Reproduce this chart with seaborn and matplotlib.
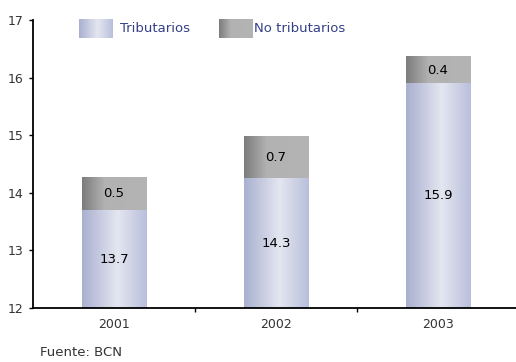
import numpy as np
import pandas as pd
import matplotlib
matplotlib.use("Agg")
import matplotlib.pyplot as plt
from matplotlib.colors import LinearSegmentedColormap
import seaborn as sns

# data
years = ["2001", "2002", "2003"]
tributarios = [13.7, 14.25, 15.9]
no_tributarios = [0.57, 0.73, 0.46]
trib_labels = ["13.7", "14.3", "15.9"]
no_trib_labels = ["0.5", "0.7", "0.4"]
y_ticks = [12, 13, 14, 15, 16, 17]

df = pd.DataFrame({"year": years, "trib": tributarios, "no_trib": no_tributarios})
df["total"] = df["trib"] + df["no_trib"]

sns.set_theme(style="white")
plt.rcParams["font.family"] = ["DejaVu Sans"]

cmap_trib = LinearSegmentedColormap.from_list(
    "trib", [(0.0, "#a9b0d0"), (0.55, "#e4e6f0"), (1.0, "#b9bfdc")])
cmap_gray = LinearSegmentedColormap.from_list(
    "gray", [(0.0, "#7c7c7c"), (0.35, "#b2b2b2"), (1.0, "#b4b4b4")])
grad = np.linspace(0, 1, 256).reshape(1, -1)

fig = plt.figure(figsize=(5.16, 3.62), dpi=100)
ax = fig.add_axes([33 / 516, 1 - 308 / 362, 486 / 516, 288 / 362])

sns.barplot(data=df, x="year", y="total", color="#b4b4b4", width=0.40, ax=ax)
n_gray = len(ax.patches)
sns.barplot(data=df, x="year", y="trib", color="#c8cce2", width=0.40, ax=ax)

# replace flat fills with horizontal gradients
for i, p in enumerate(ax.patches):
    x0, w, h = p.get_x(), p.get_width(), p.get_height()
    cmap = cmap_gray if i < n_gray else cmap_trib
    ax.imshow(grad, cmap=cmap, aspect="auto", extent=[x0, x0 + w, 0, h],
              zorder=1 + (i >= n_gray), interpolation="bicubic")
    p.set_visible(False)

ax.set_xlim(-0.5, 2.5)
ax.set_ylim(12, 17)
ax.set_yticks(y_ticks)
ax.set_xlabel("")
ax.set_ylabel("")

for i in range(len(years)):
    ax.text(i, (12 + df["trib"][i]) / 2, trib_labels[i], ha="center", va="center",
            fontsize=9.5, color="black", zorder=5)
    ax.text(i, df["trib"][i] + df["no_trib"][i] / 2, no_trib_labels[i], ha="center",
            va="center", fontsize=9.5, color="black", zorder=5)

for s in ["top", "right"]:
    ax.spines[s].set_visible(False)
for s in ["left", "bottom"]:
    ax.spines[s].set_color("black")
    ax.spines[s].set_linewidth(1.3)

ax.tick_params(axis="y", left=True, length=3, width=1, colors="black",
               labelsize=9, labelcolor="#333333", pad=4)
ax.tick_params(axis="x", which="major", bottom=False, length=0,
               labelsize=9, labelcolor="#333333", pad=7)
ax.set_xticks([0.5, 1.5], minor=True)
ax.tick_params(axis="x", which="minor", bottom=True, length=3, width=1, colors="black")

# legend with gradient swatches
navy = "#34408a"
for (px, label, cmap) in [(79, "Tributarios", cmap_trib), (219, "No tributarios", cmap_gray)]:
    lax = fig.add_axes([px / 516, 1 - 38 / 362, 34 / 516, 19 / 362])
    lax.imshow(grad, cmap=cmap, aspect="auto", interpolation="bicubic")
    lax.axis("off")
lgd_text = [(120, "Tributarios"), (254, "No tributarios")]
for tx, label in lgd_text:
    fig.text(tx / 516, 1 - 29 / 362, label, ha="left", va="center",
             fontsize=9.5, color=navy)

fig.text(40 / 516, 1 - 352 / 362, "Fuente: BCN", ha="left", va="center",
         fontsize=9.5, color="#333333")

fig.savefig("out.png", dpi=100)
